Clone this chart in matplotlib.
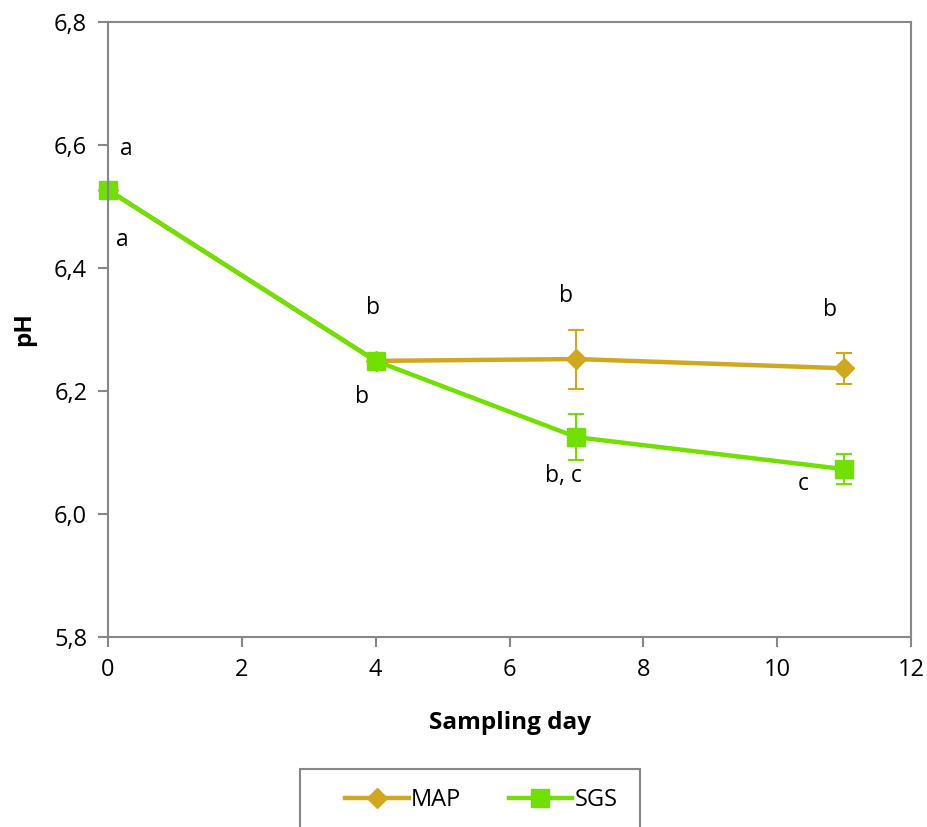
import matplotlib.pyplot as plt
from matplotlib.lines import Line2D
from matplotlib.patches import Rectangle
from matplotlib.ticker import FuncFormatter, MultipleLocator

plt.rcParams['font.family'] = ['Open Sans', 'DejaVu Sans']

days = [0, 4, 7, 11]
map_ph = [6.527, 6.249, 6.252, 6.237]
map_err = [0, 0, 0.048, 0.025]
sgs_ph = [6.527, 6.249, 6.125, 6.073]
sgs_err = [0, 0, 0.037, 0.024]

# significance letters (x, y, text)
letters_x = [0.27, 0.21, 3.96, 3.80, 6.85, 6.80, 10.79, 10.39]
letters_y = [6.593, 6.446, 6.335, 6.190, 6.354, 6.062, 6.332, 6.049]
letters = ['a', 'a', 'b', 'b', 'b', 'b, c', 'b', 'c']

map_col = '#D1A71F'
sgs_col = '#6FE000'
grey = '#878787'

fig = plt.figure(figsize=(9.28, 8.27), dpi=100)
ax = fig.add_axes([0.1164, 0.2297, 0.8653, 0.7437])

for y, e, c, m, ms in [(map_ph, map_err, map_col, 'D', 10), (sgs_ph, sgs_err, sgs_col, 's', 13)]:
    lines = ax.errorbar(days, y, yerr=e, color=c, lw=3.2, marker=m, ms=ms,
                        capsize=6, elinewidth=1.5, capthick=1.5)
    for art in lines.get_children():
        art.set_clip_on(False)

for x, y, t in zip(letters_x, letters_y, letters):
    ax.text(x, y, t, ha='center', va='center', fontsize=16.5)

ax.set_xlim(0, 12)
ax.set_ylim(5.8, 6.8)
ax.xaxis.set_major_locator(MultipleLocator(2))
ax.yaxis.set_major_locator(MultipleLocator(0.2))
ax.yaxis.set_major_formatter(FuncFormatter(lambda v, p: f'{v:.1f}'.replace('.', ',')))

for s in ax.spines.values():
    s.set_color(grey)
    s.set_linewidth(1.5)
ax.tick_params(direction='out', length=7, width=1.5, color=grey, labelsize=17, pad=8)

ax.set_xlabel('Sampling day', fontsize=17.5, fontweight='bold', labelpad=21)
ax.set_ylabel('pH', fontsize=17.5, fontweight='bold', labelpad=13)

# legend box (cut off at the bottom edge, as in the original)
fig.patches.append(Rectangle((300 / 928, -0.01), 340 / 928, 0.01 + 58 / 827,
                             transform=fig.transFigure, fill=False,
                             edgecolor=grey, lw=1.5))
handles = [Line2D([], [], color=map_col, lw=3.2, marker='D', ms=10),
           Line2D([], [], color=sgs_col, lw=3.2, marker='s', ms=13)]
fig.legend(handles, ['MAP', 'SGS'], loc='center left', bbox_to_anchor=(345 / 928, 27 / 827),
           ncol=2, fontsize=17, frameon=False, borderpad=0, borderaxespad=0,
           handlelength=2.7, handletextpad=0.1, columnspacing=2.0)

fig.savefig('out.png', dpi=100)
